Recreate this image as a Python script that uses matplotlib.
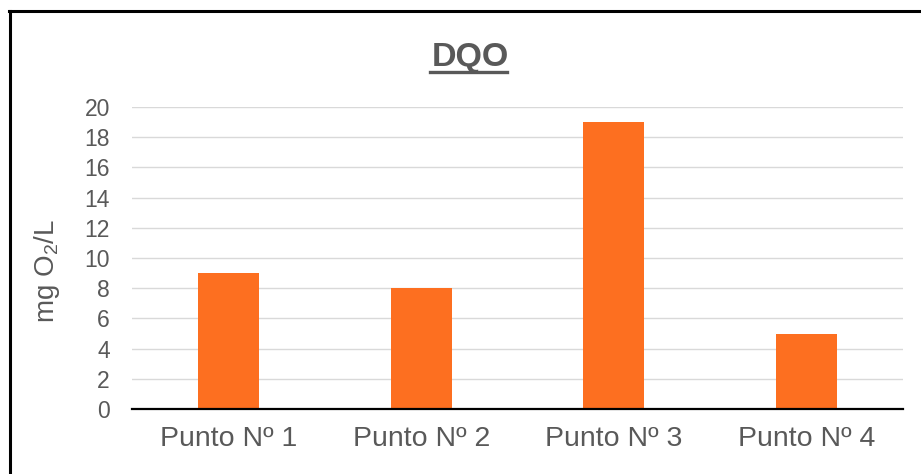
import matplotlib
matplotlib.use("Agg")
import matplotlib.pyplot as plt
from matplotlib.lines import Line2D

# ── Data ──────────────────────────────────────────────────────────────────────
puntos  = ["Punto Nº 1", "Punto Nº 2", "Punto Nº 3", "Punto Nº 4"]
dqo     = [9, 8, 19, 5]
y_ticks = [0, 2, 4, 6, 8, 10, 12, 14, 16, 18, 20]

GRAY   = "#595959"
ORANGE = "#FD6F20"

plt.rcParams["font.family"] = ["Liberation Sans", "DejaVu Sans"]
plt.rcParams["mathtext.fontset"] = "custom"
plt.rcParams["mathtext.rm"] = "Liberation Sans"
plt.rcParams["mathtext.it"] = "Liberation Sans"

W, H = 921, 474
fig = plt.figure(figsize=(W / 100, H / 100), dpi=100)
ax = fig.add_axes([132 / W, 1 - 409 / H, (903 - 132) / W, (409 - 107) / H])

x = range(len(puntos))
ax.bar(x, dqo, width=0.316, color=ORANGE, zorder=3)

ax.set_xlim(-0.5, len(puntos) - 0.5)
ax.set_ylim(0, 20)
ax.set_yticks(y_ticks)
ax.set_xticks(list(x))
ax.set_xticklabels(puntos)
ax.grid(axis="y", color="#D9D9D9", linewidth=1, zorder=0)
ax.tick_params(axis="y", length=0, pad=16, labelsize=16.5, labelcolor=GRAY)
ax.tick_params(axis="x", length=0, pad=12, labelsize=20.5, labelcolor=GRAY)

for side in ["top", "right", "left"]:
    ax.spines[side].set_visible(False)
ax.spines["bottom"].set_color("#000000")
ax.spines["bottom"].set_linewidth(1.6)
ax.spines["bottom"].set_zorder(4)

fig.text(47 / W, 1 - 271 / H, r"mg O$_2$/L", rotation=90, ha="center",
         va="center", fontsize=20, color=GRAY)

# title with underline
title = fig.text(470 / W, 1 - 66 / H, "DQO", ha="center", va="baseline",
                 fontsize=24.5, fontweight="bold", color=GRAY)
fig.canvas.draw()
bb = title.get_window_extent()
uy = 1 - 72 / H
fig.add_artist(Line2D([(bb.x0 - 1) / W, (bb.x1 - 2) / W], [uy, uy], color=GRAY,
                      linewidth=2.4, transform=fig.transFigure))

# outer border (left and top only, rest is cropped)
fig.add_artist(Line2D([9.5 / W, 9.5 / W], [0, 1 - 10.5 / H], color="black",
                      linewidth=2.2, transform=fig.transFigure))
fig.add_artist(Line2D([8.5 / W, 1], [1 - 10.5 / H, 1 - 10.5 / H], color="black",
                      linewidth=2.2, transform=fig.transFigure))

fig.savefig("out.png", dpi=100)
